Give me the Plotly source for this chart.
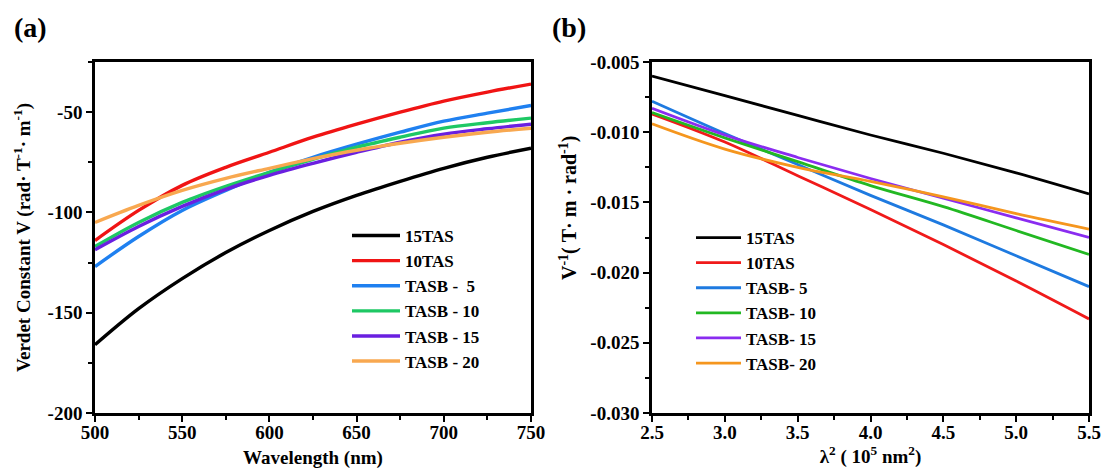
import plotly.graph_objects as go

# ---------------- data: panel (a) ----------------
wavelength = [500, 525, 550, 575, 600, 625, 650, 675, 700, 725, 750]
names_a = ["15TAS", "10TAS", "TASB -\u00a0\u00a05", "TASB - 10", "TASB - 15", "TASB - 20"]
v_15tas = [-166, -148, -133, -120, -109, -99.5, -91.5, -84.5, -78, -72.5, -68]
v_10tas = [-114, -99, -86.5, -77.5, -70, -62.5, -56, -50, -44.5, -40, -36]
v_tasb5 = [-127, -112, -99, -89, -80, -72.5, -66, -60, -54.5, -50.5, -46.7]
v_tasb10 = [-117, -105, -95, -87, -80, -73.5, -67.5, -62.5, -58, -55.3, -53]
v_tasb15 = [-118.6, -107, -97, -88.5, -81.5, -75.5, -70, -65, -61, -58.3, -56]
v_tasb20 = [-105, -96.5, -89, -83, -78, -73.2, -69, -65.5, -62.5, -60, -58]
colors_a = ["#000000", "#f01414", "#1f80f0", "#1ec864", "#6a1fe0", "#f8a850"]

# ---------------- data: panel (b) ----------------
lambda2 = [2.5, 3.0, 3.5, 4.0, 4.5, 5.0, 5.5]
names_b = ["15TAS", "10TAS", "TASB- 5", "TASB- 10", "TASB- 15", "TASB- 20"]
inv_15tas = [-0.0060, -0.0074, -0.0088, -0.0102, -0.0115, -0.0129, -0.0144]
inv_10tas = [-0.0087, -0.0107, -0.0131, -0.0155, -0.0180, -0.0206, -0.0233]
inv_tasb5 = [-0.0078, -0.0101, -0.0123, -0.0145, -0.0166, -0.0188, -0.0210]
inv_tasb10 = [-0.0086, -0.0104, -0.0121, -0.0138, -0.0153, -0.0170, -0.0187]
inv_tasb15 = [-0.0083, -0.0102, -0.0118, -0.0133, -0.0147, -0.0161, -0.0175]
inv_tasb20 = [-0.0094, -0.0112, -0.0125, -0.0135, -0.0146, -0.0158, -0.0169]
colors_b = ["#000000", "#f01a1a", "#1e7ae0", "#22b822", "#8a2cf0", "#f5961e"]

# ---------------- tick labels ----------------
xa_ticks = [500, 550, 600, 650, 700, 750]
xa_text = ["500", "550", "600", "650", "700", "750"]
ya_ticks = [-200, -150, -100, -50]
ya_text = ["-200", "-150", "-100", "-50"]
xb_ticks = [2.5, 3.0, 3.5, 4.0, 4.5, 5.0, 5.5]
xb_text = ["2.5", "3.0", "3.5", "4.0", "4.5", "5.0", "5.5"]
yb_ticks = [-0.030, -0.025, -0.020, -0.015, -0.010, -0.005]
yb_text = ["-0.030", "-0.025", "-0.020", "-0.015", "-0.010", "-0.005"]

FONT = "Liberation Serif"
W, H = 1103, 469

fig = go.Figure()
series_a = [v_15tas, v_10tas, v_tasb5, v_tasb10, v_tasb15, v_tasb20]
for name, ys, c in zip(names_a, series_a, colors_a):
    fig.add_trace(go.Scatter(x=wavelength, y=ys, name=name, mode="lines",
                             line=dict(color=c, width=3.4, shape="spline"),
                             xaxis="x", yaxis="y", legend="legend"))
series_b = [inv_15tas, inv_10tas, inv_tasb5, inv_tasb10, inv_tasb15, inv_tasb20]
for name, ys, c in zip(names_b, series_b, colors_b):
    fig.add_trace(go.Scatter(x=lambda2, y=ys, name=name, mode="lines",
                             line=dict(color=c, width=2.8, shape="spline"),
                             xaxis="x2", yaxis="y2", legend="legend2"))

def px_x(p):
    return p / W

def px_y(p):
    return 1 - p / H

TICK_FONT = dict(family=FONT, size=19, color="black", weight="bold")
TITLE_FONT = dict(family=FONT, size=19, color="black", weight="bold")
axis_common = dict(showline=True, linecolor="black", linewidth=2.6, mirror=True,
                   ticks="outside", ticklen=6, tickwidth=2.2, tickcolor="black",
                   showgrid=False, zeroline=False, automargin=False,
                   tickfont=TICK_FONT)

fig.update_layout(
    width=W, height=H,
    margin=dict(l=0, r=0, t=0, b=0),
    paper_bgcolor="white", plot_bgcolor="white",
    font=dict(family=FONT, color="black", weight="bold"),
    showlegend=True,
    xaxis=dict(domain=[px_x(95), px_x(531)], range=[500, 750],
               tickvals=xa_ticks, ticktext=xa_text, ticklabelstandoff=-6,
               minor=dict(ticks="outside", dtick=25, ticklen=4, tickwidth=2, tickcolor="black"),
               title=dict(text="Wavelength (nm)", standoff=12, font=TITLE_FONT),
               anchor="y", **axis_common),
    yaxis=dict(domain=[px_y(413), px_y(62)], range=[-200, -25],
               tickvals=ya_ticks, ticktext=ya_text,
               minor=dict(ticks="outside", dtick=25, tick0=-200, ticklen=4, tickwidth=2, tickcolor="black"),
               title=dict(text="Verdet Constant V (rad· T<sup>-1</sup>· m<sup>-1</sup>)", standoff=12,
                          font=TITLE_FONT),
               anchor="x", **axis_common),
    xaxis2=dict(domain=[px_x(652), px_x(1089)], range=[2.5, 5.5],
                tickvals=xb_ticks, ticktext=xb_text, ticklabelstandoff=-6,
                minor=dict(ticks="outside", dtick=0.25, tick0=2.5, ticklen=4, tickwidth=2, tickcolor="black"),
                title=dict(text="λ<sup>2</sup> ( 10<sup>5</sup> nm<sup>2</sup>)", standoff=8, font=TITLE_FONT),
                anchor="y2", **axis_common),
    yaxis2=dict(domain=[px_y(413), px_y(62)], range=[-0.030, -0.005],
                tickvals=yb_ticks, ticktext=yb_text,
                minor=dict(ticks="outside", dtick=0.0025, tick0=-0.030, ticklen=4, tickwidth=2, tickcolor="black"),
                anchor="x2", **axis_common),
    legend=dict(x=px_x(347), y=px_y(218), xanchor="left", yanchor="top",
                bgcolor="rgba(0,0,0,0)", itemwidth=48, tracegroupgap=0,
                font=dict(family=FONT, size=17, color="black", weight="bold")),
    legend2=dict(x=px_x(691), y=px_y(220), xanchor="left", yanchor="top",
                 bgcolor="rgba(0,0,0,0)", itemwidth=45, tracegroupgap=0,
                 font=dict(family=FONT, size=17, color="black", weight="bold")),
    annotations=[
        dict(text="(a)", x=px_x(12), y=px_y(28), xref="paper", yref="paper",
             xanchor="left", yanchor="middle", showarrow=False,
             font=dict(family=FONT, size=28, color="black", weight="bold")),
        dict(text="(b)", x=px_x(550), y=px_y(28), xref="paper", yref="paper",
             xanchor="left", yanchor="middle", showarrow=False,
             font=dict(family=FONT, size=28, color="black", weight="bold")),
        dict(text="V<sup>-1</sup>(\u00a0T·\u00a0m\u00a0·\u00a0rad<sup>-1</sup>)", x=px_x(568), y=px_y(208),
             xref="paper", yref="paper", xanchor="center", yanchor="middle",
             textangle=-90, showarrow=False,
             font=dict(family=FONT, size=20, color="black", weight="bold")),
    ],
)

fig.write_html("out.html", config={"displayModeBar": False},
               post_script="document.body.style.margin='0';")
